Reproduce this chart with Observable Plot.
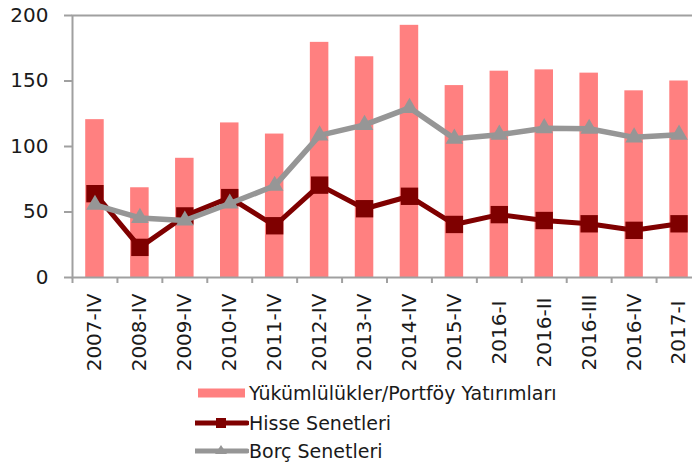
<!DOCTYPE html>
<html>
<head>
<meta charset="utf-8">
<script src="https://cdn.jsdelivr.net/npm/d3@7"></script>
<script src="https://cdn.jsdelivr.net/npm/@observablehq/plot@0.6"></script>
<style>
  html, body { margin: 0; padding: 0; background: #fff; }
  #wrap { position: relative; width: 692px; height: 463px; overflow: hidden; font-family: "DejaVu Sans", sans-serif; }
  #chart svg { display: block; }
  .leg { position: absolute; left: 0; height: 30px; display: flex; align-items: center; }
  .leg svg { display: block; }
  .leg span { font-size: 19px; color: #1a1a1a; white-space: nowrap; margin-left: 0px; }
</style>
</head>
<body>
<div id="wrap">
  <div id="chart"></div>
  <div id="legend"></div>
</div>
<script>
const categories = ["2007-IV","2008-IV","2009-IV","2010-IV","2011-IV","2012-IV","2013-IV","2014-IV","2015-IV","2016-I","2016-II","2016-III","2016-IV","2017-I"];
const portfoy = [120.5, 68.5, 91, 118, 109.5, 179.5, 168.5, 192.5, 146.5, 157.5, 158.5, 156, 142.5, 150];
const hisse = [64, 23, 47, 61, 39.5, 70.5, 52.5, 62, 40.5, 48, 43.5, 41, 36, 41];
const borc = [55.5, 45.5, 43.5, 56.5, 70, 108.5, 116.5, 129.5, 106, 109, 114, 113.5, 107, 109];
const seriesNames = ["Yükümlülükler/Portföy Yatırımları", "Hisse Senetleri", "Borç Senetleri"];
const yTicks = [0, 50, 100, 150, 200];

const colBar = "#ff8080", colRed = "#7f0000", colGray = "#969696", colAxis = "#a0a0a0";

const data = categories.map((c, i) => ({cat: c, portfoy: portfoy[i], hisse: hisse[i], borc: borc[i]}));

const W = 692, H = 380, mL = 72, mR = -9;
const step = (W - mR - mL) / categories.length;

const chart = Plot.plot({
  width: W,
  height: H,
  marginLeft: mL,
  marginRight: mR,
  marginTop: 15,
  marginBottom: 103,
  style: {fontFamily: "DejaVu Sans, sans-serif", color: "#1a1a1a", background: "white", overflow: "visible"},
  x: {type: "band", domain: categories, paddingInner: 0.588, paddingOuter: 0.294, round: false},
  y: {domain: [0, 200]},
  marks: [
    Plot.barY(data, {x: "cat", y: "portfoy", fill: colBar}),
    Plot.frame({stroke: colAxis, strokeWidth: 2}),
    Plot.axisY({ticks: yTicks, tickSize: 8, tickPadding: 16, fontSize: 20, stroke: colAxis, strokeWidth: 2, fill: "#1a1a1a", label: null}),
    Plot.axisX({tickSize: 6, tickFormat: () => "", dx: -step / 2, stroke: colAxis, strokeWidth: 2, label: null}),
    Plot.text(categories, {x: d => d, y: 0, text: d => d, rotate: -90, dy: 55, textAnchor: "middle", lineAnchor: "middle", fontSize: 20, fill: "#1a1a1a"}),
    Plot.line(data, {x: "cat", y: "hisse", stroke: colRed, strokeWidth: 5}),
    Plot.dot(data, {x: "cat", y: "hisse", symbol: "square", r: 9.8, fill: colRed, stroke: "none"}),
    Plot.line(data, {x: "cat", y: "borc", stroke: colGray, strokeWidth: 5.5}),
    Plot.dot(data, {x: "cat", y: "borc", symbol: "triangle", r: 6.5, fill: colGray, stroke: "none"})
  ]
});
document.getElementById("chart").appendChild(chart);

// Legend
const legend = document.getElementById("legend");
const rowsY = [392.7, 422.7, 451];
const swatches = [
  `<svg width="54" height="20"><rect x="3" y="5.5" width="47" height="9" fill="${colBar}"/></svg>`,
  `<svg width="54" height="20"><line x1="0" y1="10" x2="52" y2="10" stroke="${colRed}" stroke-width="5" stroke-linecap="round"/><rect x="21" y="5" width="10" height="10" fill="${colRed}"/></svg>`,
  `<svg width="54" height="20"><line x1="0" y1="10" x2="52" y2="10" stroke="${colGray}" stroke-width="5" stroke-linecap="round"/><path d="M26,4 L32,13 L20,13 Z" fill="${colGray}"/></svg>`
];
seriesNames.forEach((name, i) => {
  const row = document.createElement("div");
  row.className = "leg";
  row.style.left = "195px";
  row.style.top = (rowsY[i] - 15) + "px";
  row.innerHTML = swatches[i] + `<span>${name}</span>`;
  legend.appendChild(row);
});
</script>
</body>
</html>
